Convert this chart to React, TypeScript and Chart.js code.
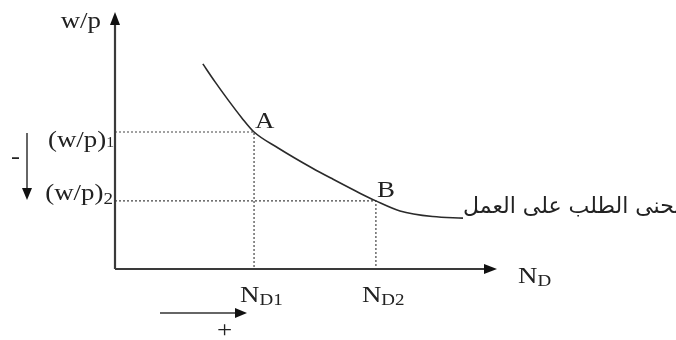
import { useEffect, useRef } from "react";
import { Chart, registerables } from "chart.js";

Chart.register(...registerables);

// Demand-for-labour curve (arbitrary units, x: employment N_D, y: real wage w/p)
const curveX = [23.0, 26.2, 29.6, 33.2, 36.4, 42.7, 51.6, 57.1, 64.1, 68.3, 74.6, 83.2, 91.1];
const curveY = [79.8, 72.8, 65.8, 58.8, 53.3, 47.1, 39.3, 34.9, 29.5, 26.5, 22.6, 20.4, 19.8];

// Marked points A and B
const pointLabels = ["A", "B"];
const ndValues = [36.4, 68.3];
const wpValues = [53.3, 26.5];
const xTickMain = ["N", "N"];
const xTickSub = ["D1", "D2"];
const yTickMain = ["(w/p)", "(w/p)"];
const yTickSub = ["1", "2"];

const yAxisTitle = "w/p";
const xAxisTitleMain = "N";
const xAxisTitleSub = "D";
const curveLabel = "منحنى الطلب على العمل";

const FONT = "'Liberation Serif', 'Times New Roman', 'DejaVu Sans', serif";
const SX = 1.12;
const INK = "#222";

function textW(ctx: CanvasRenderingContext2D, t: string, size: number) {
  ctx.font = `${size}px ${FONT}`;
  return ctx.measureText(t).width * SX;
}

function drawT(ctx: CanvasRenderingContext2D, t: string, x: number, y: number, size: number) {
  ctx.save();
  ctx.font = `${size}px ${FONT}`;
  ctx.textAlign = "left";
  ctx.textBaseline = "alphabetic";
  ctx.fillStyle = INK;
  ctx.translate(x, y);
  ctx.scale(SX, 1);
  ctx.fillText(t, 0, 0);
  ctx.restore();
}

function drawSub(
  ctx: CanvasRenderingContext2D,
  main: string,
  sub: string,
  x: number,
  y: number,
  align: "left" | "right",
  mainSize: number,
  subSize: number,
  subDy: number
) {
  const w1 = textW(ctx, main, mainSize);
  const w2 = textW(ctx, sub, subSize);
  const start = align === "left" ? x : x - w1 - w2;
  drawT(ctx, main, start, y, mainSize);
  drawT(ctx, sub, start + w1, y + subDy, subSize);
}

function arrowHead(ctx: CanvasRenderingContext2D, tx: number, ty: number, dir: "up" | "down" | "right", len = 12, half = 5) {
  ctx.beginPath();
  ctx.moveTo(tx, ty);
  if (dir === "up") {
    ctx.lineTo(tx - half, ty + len);
    ctx.lineTo(tx + half, ty + len);
  } else if (dir === "down") {
    ctx.lineTo(tx - half, ty - len);
    ctx.lineTo(tx + half, ty - len);
  } else {
    ctx.lineTo(tx - len, ty - half);
    ctx.lineTo(tx - len, ty + half);
  }
  ctx.closePath();
  ctx.fill();
}

const annotationPlugin = {
  id: "annotations",
  afterDraw(chart: any) {
    const ctx: CanvasRenderingContext2D = chart.ctx;
    const xs = chart.scales.x;
    const ys = chart.scales.y;
    const ca = chart.chartArea;
    const x0 = xs.getPixelForValue(0);
    const y0 = ys.getPixelForValue(0);
    ctx.save();
    // axes
    ctx.strokeStyle = "#3a3a3a";
    ctx.fillStyle = "#111";
    ctx.lineWidth = 2.2;
    ctx.beginPath();
    ctx.moveTo(x0, y0);
    ctx.lineTo(x0, ca.top + 10);
    ctx.moveTo(x0, y0);
    ctx.lineTo(ca.right - 10, y0);
    ctx.stroke();
    arrowHead(ctx, x0, ca.top, "up", 13, 5);
    arrowHead(ctx, ca.right, y0, "right", 13, 5);

    // axis titles
    const tw = textW(ctx, yAxisTitle, 24);
    drawT(ctx, yAxisTitle, x0 - 14 - tw, ca.top + 16, 24);
    drawSub(ctx, xAxisTitleMain, xAxisTitleSub, ca.right + 21, y0 + 14, "left", 24, 17, 3);

    // tick labels
    const ty1 = ys.getPixelForValue(wpValues[0]);
    const ty2 = ys.getPixelForValue(wpValues[1]);
    drawSub(ctx, yTickMain[0], yTickSub[0], x0 - 1, ty1 + 15, "right", 24, 14, 0);
    drawSub(ctx, yTickMain[1], yTickSub[1], x0 - 2, ty2 - 1, "right", 24, 17, 4);
    for (let i = 0; i < ndValues.length; i++) {
      const px = xs.getPixelForValue(ndValues[i]);
      drawSub(ctx, xTickMain[i], xTickSub[i], px - 14, y0 + 33, "left", 24, 17, 3);
    }

    // point labels
    for (let i = 0; i < pointLabels.length; i++) {
      const px = xs.getPixelForValue(ndValues[i]);
      const py = ys.getPixelForValue(wpValues[i]);
      drawT(ctx, pointLabels[i], px + 1, py - 4, 24);
    }

    // curve label (Arabic)
    const lastX = xs.getPixelForValue(curveX[curveX.length - 1]);
    const lastY = ys.getPixelForValue(curveY[curveY.length - 1]);
    ctx.save();
    ctx.font = `22px 'DejaVu Sans', ${FONT}`;
    ctx.fillStyle = INK;
    ctx.textAlign = "left";
    ctx.textBaseline = "alphabetic";
    ctx.fillText(curveLabel, lastX, lastY - 5);
    ctx.restore();

    // direction arrows
    ctx.strokeStyle = "#333";
    ctx.fillStyle = "#111";
    ctx.lineWidth = 1.5;
    const ax = x0 - 88;
    ctx.beginPath();
    ctx.moveTo(ax, ty1 + 1);
    ctx.lineTo(ax, ty2 - 8);
    ctx.stroke();
    arrowHead(ctx, ax, ty2 - 1, "down", 12, 5);
    drawT(ctx, "-", ax - 16, ty1 + 32, 24);

    const ay = y0 + 44;
    ctx.beginPath();
    ctx.moveTo(x0 + 45, ay);
    ctx.lineTo(x0 + 124, ay);
    ctx.stroke();
    arrowHead(ctx, x0 + 132, ay, "right", 12, 5);
    drawT(ctx, "+", x0 + 102, ay + 24, 24);
    ctx.restore();
  },
};

export default function App() {
  const ref = useRef<HTMLCanvasElement | null>(null);
  useEffect(() => {
    if (!ref.current) return;
    const curve = curveX.map((x, i) => ({ x, y: curveY[i] }));
    const guides = ndValues.map((nd, i) => ({
      data: [
        { x: 0, y: wpValues[i] },
        { x: nd, y: wpValues[i] },
        { x: nd, y: 0 },
      ],
      showLine: true,
      borderColor: "#444",
      borderWidth: 1.2,
      borderDash: [2, 2],
      pointRadius: 0,
      tension: 0,
    }));
    const chart = new Chart(ref.current, {
      type: "scatter",
      data: {
        datasets: [
          {
            data: curve,
            showLine: true,
            borderColor: "#2a2a2a",
            borderWidth: 1.6,
            pointRadius: 0,
            cubicInterpolationMode: "monotone",
          } as any,
          ...(guides as any[]),
        ],
      },
      options: {
        animation: false,
        responsive: false,
        devicePixelRatio: 1,
        layout: { padding: { left: 115, right: 179, top: 12, bottom: 71 } },
        plugins: { legend: { display: false }, tooltip: { enabled: false } },
        scales: {
          x: { type: "linear", min: 0, max: 100, display: false },
          y: { type: "linear", min: 0, max: 100, display: false },
        },
      },
      plugins: [annotationPlugin],
    });
    return () => chart.destroy();
  }, []);
  return (
    <div style={{ position: "fixed", left: 0, top: 0, width: 676, height: 340, background: "#fff" }}>
      <canvas ref={ref} width={676} height={340} style={{ width: 676, height: 340, display: "block" }} />
    </div>
  );
}
